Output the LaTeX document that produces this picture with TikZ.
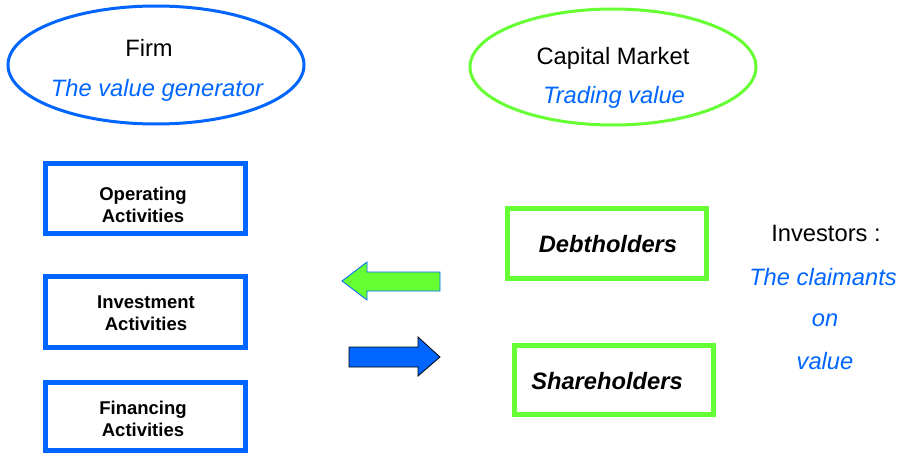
\documentclass[tikz,border=0pt]{standalone}
\usepackage{fontspec}
\setmainfont{Liberation Sans}
\definecolor{myblue}{RGB}{0,102,255}
\definecolor{mygreen}{RGB}{102,255,51}
\definecolor{txtblue}{RGB}{0,102,255}
\tikzset{
  actbox/.style={draw=myblue, line width=5pt, fill=white},
  invbox/.style={draw=mygreen, line width=5pt, fill=white},
  big/.style={font=\fontsize{23.7}{28}\selectfont},
  bigit/.style={font=\fontsize{23.7}{28}\selectfont\itshape, text=txtblue},
  boxtxt/.style={font=\fontsize{18.5}{22.5}\selectfont\bfseries, align=center},
  holdtxt/.style={font=\fontsize{23.7}{28}\selectfont\bfseries\itshape},
}
\begin{document}
\begin{tikzpicture}[x=1pt,y=-1pt]
\useasboundingbox (0,0) rectangle (901,452);
% ellipses
\draw[myblue, line width=3pt] (156,65) ellipse [x radius=148, y radius=59];
\node[big] (firm) at (149,48) {Firm};
\node[bigit] (gen) at (157,90) {The value generator};
\draw[mygreen, line width=3pt] (613,67) ellipse [x radius=143, y radius=58];
\node[big] (cm) at (613,58) {Capital Market};
\node[bigit] (tv) at (614,97) {Trading value};
% activity boxes
\draw[actbox] (45,163) rectangle (245,233);
\node[boxtxt] (op) at (143,205) {Operating\\Activities};
\draw[actbox] (45,276) rectangle (245,347);
\node[boxtxt] (inv) at (146,313) {Investment\\Activities};
\draw[actbox] (45,382) rectangle (245,450);
\node[boxtxt] (fin) at (143,419) {Financing\\Activities};
% holders
\draw[invbox] (507,208) rectangle (706,278);
\node[holdtxt] (debt) at (608,244) {Debtholders};
\draw[invbox] (514,345) rectangle (713,414);
\node[holdtxt] (share) at (607,381) {Shareholders};
% investors
\node[big] (investors) at (826,233) {Investors :};
\node[bigit] (claim) at (823,277) {The claimants};
\node[bigit] (on) at (825,320) {on};
\node[bigit] (val) at (825,361) {value};
% arrows
\draw[fill=mygreen, draw=myblue, line width=0.8pt, line join=miter]
  (342,281) -- (367,262) -- (367,272) -- (440,272) -- (440,291) -- (367,291) -- (367,300) -- cycle;
\draw[fill=myblue, draw=black, line width=0.8pt, line join=miter]
  (440,357) -- (418,337) -- (418,347) -- (349,347) -- (349,367) -- (418,367) -- (418,376) -- cycle;
\end{tikzpicture}
\end{document}
